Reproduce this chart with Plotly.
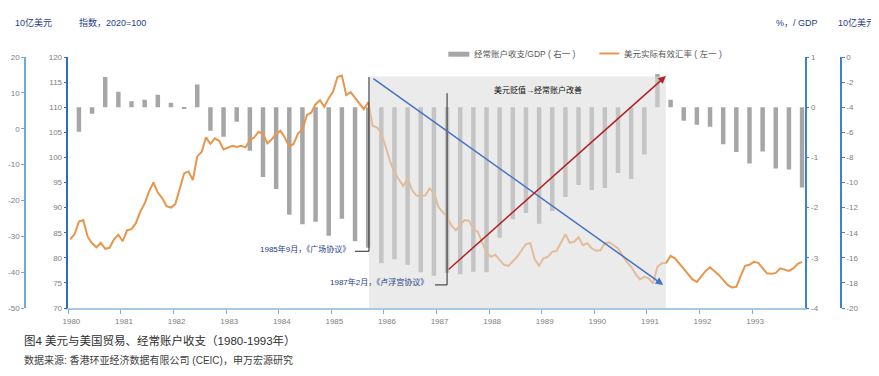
import plotly.graph_objects as go

# ---------------- data ----------------
years = list(range(1980, 1994))
year_labels = [str(y) for y in years]

# US real effective exchange rate, monthly 1980-01 .. 1993-12 (index, 2020=100)
reer = [
    83.7, 84.7, 87.2, 87.5, 84.2, 82.9, 82.1, 83.0, 81.8, 82.0, 83.7, 84.6,   # 1980
    83.3, 85.5, 85.7, 86.9, 89.2, 90.8, 93.2, 95.0, 93.0, 91.9, 90.3, 90.0,   # 1981
    90.7, 94.0, 96.8, 97.2, 95.5, 100.2, 101.1, 104.0, 102.7, 103.8, 103.3, 101.6,  # 1982
    101.9, 102.3, 102.1, 102.3, 102.0, 103.4, 104.0, 105.1, 104.7, 102.8, 103.6, 104.7,  # 1983
    105.3, 103.9, 102.1, 102.7, 104.8, 105.5, 108.4, 108.9, 110.6, 111.4, 110.1, 111.8,  # 1984
    113.1, 116.0, 116.3, 112.4, 113.0, 111.9, 110.8, 109.6, 111.0, 106.3, 106.0, 104.8,  # 1985
    102.1, 99.2, 97.0, 95.6, 94.3, 95.8, 93.5, 92.4, 92.3, 92.4, 93.8, 93.0,  # 1986
    90.2, 89.1, 88.2, 86.4, 85.5, 86.5, 87.5, 87.4, 85.7, 85.2, 83.2, 81.0,   # 1987
    80.2, 80.6, 79.6, 78.6, 78.4, 79.2, 80.2, 81.5, 82.7, 82.9, 79.7, 78.4,   # 1988
    79.9, 80.2, 81.2, 81.4, 83.2, 84.7, 83.0, 83.2, 84.1, 82.5, 82.9, 81.9,   # 1989
    81.4, 81.5, 82.9, 83.1, 82.5, 81.9, 80.5, 79.2, 78.2, 76.8, 75.7, 76.2,   # 1990
    75.9, 74.9, 78.2, 78.9, 79.0, 80.4, 79.9, 78.9, 77.9, 76.8, 75.7, 75.2,   # 1991
    76.2, 77.4, 78.1, 77.4, 76.6, 75.6, 74.6, 74.1, 74.2, 76.4, 78.4, 78.6,   # 1992
    79.2, 79.0, 77.9, 76.9, 76.8, 77.0, 77.9, 77.6, 77.4, 77.9, 78.8, 79.2,   # 1993
]

# Current account / GDP, quarterly 1980Q1 .. 1993Q4 (%)
ca_gdp = [
    -0.49, -0.13, 0.60, 0.31,    # 1980
    0.12, 0.15, 0.25, 0.09,      # 1981
    -0.03, 0.45, -0.47, -0.59,   # 1982
    -0.29, -0.87, -1.39, -1.63,  # 1983
    -2.14, -2.33, -2.28, -2.56,  # 1984
    -2.22, -2.67, -2.80, -3.11,  # 1985
    -3.03, -3.14, -3.29, -3.36,  # 1986
    -3.30, -3.33, -3.28, -3.29,  # 1987
    -2.60, -2.23, -2.11, -2.32,  # 1988
    -2.07, -1.79, -1.55, -1.65,  # 1989
    -1.61, -1.31, -1.43, -0.94,  # 1990
    0.66, 0.15, -0.27, -0.35,    # 1991
    -0.39, -0.74, -0.89, -1.12,  # 1992
    -0.88, -1.22, -1.24, -1.60,  # 1993
]

left_outer_vals = [20, 10, 0, -10, -20, -30, -40, -50]
left_outer_text = ["20", "10", "0", "-10", "-20", "-30", "-40", "-50"]
left_inner_vals = [120, 115, 110, 105, 100, 95, 90, 85, 80, 75, 70]
left_inner_text = [str(v) for v in left_inner_vals]
right_inner_vals = [1, 0, -1, -2, -3, -4]
right_inner_text = ["1", "0", "-1", "-2", "-3", "-4"]
right_outer_vals = [0, -2, -4, -6, -8, -10, -12, -14, -16, -18, -20]
right_outer_text = ["0", "-2", "-4", "-6", "-8", "-10", "-12", "-14", "-16", "-18", "-20"]

# event dates (decimal years)
plaza = 1985.715
louvre = 1987.2
shade_end = 1991.36

# ---------------- layout helpers ----------------
# the page body has an 8px margin, so the figure is drawn 8px smaller and
# all page-pixel positions below are converted accordingly
OFF = 8
W, H = 879 - OFF, 376 - OFF
ML, MR, MT, MB = 2, 10, 49, 68
PW = W - ML - MR
PH = H - MT - MB


def px(x):
    return (x - OFF - ML) / PW


def py(y):
    return (H - MB - (y - OFF)) / PH


FONT = "Liberation Sans, Noto Sans CJK SC, sans-serif"
ORANGE = "#E8964C"
BAR = "#A6A6A6"
NAVY = "#1F3D8A"
TICKC = "#808080"

t_month = [1980 + (k + 0.4) / 12 for k in range(len(reer))]
t_bar = [1980 + (3 * i + 2.4) / 12 for i in range(len(ca_gdp))]

fig = go.Figure()
fig.add_trace(go.Bar(x=t_bar, y=ca_gdp, width=0.085, marker=dict(color=BAR, line=dict(width=0)),
                     name="经常账户收支/GDP（右一）", yaxis="y", showlegend=False, hoverinfo="skip"))
fig.add_trace(go.Scatter(x=t_month, y=reer, mode="lines", line=dict(color=ORANGE, width=2),
                         name="美元实际有效汇率（左一）", yaxis="y2", showlegend=False, hoverinfo="skip"))
fig.add_trace(go.Scatter(x=[None], y=[None], yaxis="y3", showlegend=False, hoverinfo="skip"))
fig.add_trace(go.Scatter(x=[None], y=[None], yaxis="y4", showlegend=False, hoverinfo="skip"))

tickfont = dict(family=FONT, size=8, color=TICKC)

common = dict(showgrid=False, zeroline=False, showline=True, ticks="outside", ticklen=3,
              tickfont=tickfont, fixedrange=True)

fig.update_layout(
    width=W, height=H,
    margin=dict(l=ML, r=MR, t=MT, b=MB, autoexpand=False),
    paper_bgcolor="white", plot_bgcolor="white",
    font=dict(family=FONT),
    barmode="overlay",
    xaxis=dict(domain=[px(68.4), px(804.7)], range=[1980, 1994], tickvals=years, ticktext=year_labels,
               showgrid=False, zeroline=False, showline=True, linecolor="#A9C8E8", linewidth=2,
               ticks="outside", ticklen=4, tickcolor="#7FAEDC", tickfont=tickfont, anchor="y",
               ticklabelshift=3),
    yaxis=dict(side="right", range=[-4, 1], tickvals=right_inner_vals, ticktext=right_inner_text,
               linecolor="#3C82CC", linewidth=1.5, tickcolor="#3C82CC", anchor="x", **common),
    yaxis2=dict(side="left", overlaying="y", range=[70, 120], tickvals=left_inner_vals,
                ticktext=left_inner_text, linecolor="#2F6EBA", linewidth=1.5, tickcolor="#2F6EBA",
                anchor="x", **common),
    yaxis3=dict(side="left", overlaying="y", anchor="free", position=px(25), range=[-50, 20],
                tickvals=left_outer_vals, ticktext=left_outer_text, linecolor="#6FA8DC", linewidth=1.5,
                tickcolor="#6FA8DC", **common),
    yaxis4=dict(side="right", overlaying="y", anchor="free", position=px(841), range=[-20, 0],
                tickvals=right_outer_vals, ticktext=right_outer_text, linecolor="#3C82CC", linewidth=1.5,
                tickcolor="#3C82CC", **common),
)

shapes = [
    # shaded period
    dict(type="rect", xref="x", yref="y2", x0=plaza, x1=shade_end, y0=70, y1=116.1,
         fillcolor="rgba(219,219,219,0.56)", line=dict(width=0), layer="above"),
    # Plaza accord marker
    dict(type="line", xref="x", yref="y2", x0=plaza, x1=plaza, y0=116.0, y1=81.3,
         line=dict(color="#262626", width=1), layer="above"),
    dict(type="line", xref="x", yref="y2", x0=1985.45, x1=plaza, y0=81.3, y1=81.3,
         line=dict(color="#262626", width=1), layer="above"),
    # Louvre accord marker
    dict(type="line", xref="x", yref="y2", x0=louvre, x1=louvre, y0=112.8, y1=74.6,
         line=dict(color="#262626", width=1), layer="above"),
    dict(type="line", xref="x", yref="y2", x0=1986.97, x1=louvre, y0=74.6, y1=74.6,
         line=dict(color="#262626", width=1), layer="above"),
    # custom legend
    dict(type="rect", xref="paper", yref="paper", x0=px(448.3), x1=px(469.3), y0=py(56.7), y1=py(51.7),
         fillcolor=BAR, line=dict(width=0)),
    dict(type="line", xref="paper", yref="paper", x0=px(599.3), x1=px(619.3), y0=py(53.5), y1=py(53.5),
         line=dict(color=ORANGE, width=2)),
]
fig.update_layout(shapes=shapes)

ann = []


def txt(x, y, s, size, color, xanchor="left", xref="paper", yref="paper"):
    ann.append(dict(x=x, y=y, xref=xref, yref=yref, text=s, showarrow=False, xanchor=xanchor,
                    yanchor="middle", font=dict(family=FONT, size=size, color=color)))


# axis titles
txt(px(13), py(23), "10亿美元", 9, NAVY)
txt(px(77), py(23), "指数，2020=100", 9, NAVY)
txt(px(774), py(23), "%，/ GDP", 9, NAVY)
txt(px(836), py(23), "10亿美元", 9, NAVY)
# legend text
txt(px(472), py(54.3), "经常账户收支/GDP ( 右一 )", 8.5, "#595959")
txt(px(622), py(53.8), "美元实际有效汇率 ( 左一 )", 8.5, "#595959")
# event labels
txt(1985.40, 81.7, "1985年9月，《广场协议》", 8, NAVY, xanchor="right", xref="x", yref="y2")
txt(1986.875, 75.1, "1987年2月，《卢浮宫协议》", 8, NAVY, xanchor="right", xref="x", yref="y2")
txt(1988.92, 113.4, "美元贬值→经常账户改善", 8, "#111111", xanchor="center", xref="x", yref="y2")
# footer
txt(px(22), py(340), "图4 美元与美国贸易、经常账户收支（1980-1993年）", 11.5, "#2e2e2e")
txt(px(22), py(360), "数据来源: 香港环亚经济数据有限公司 (CEIC)，申万宏源研究", 10, "#404040")

# trend arrows
ann.append(dict(x=1991.31, y=74.6, ax=1985.77, ay=115.9, xref="x", yref="y2", axref="x", ayref="y2",
                text="", showarrow=True, arrowhead=2, arrowsize=1, arrowwidth=1.5,
                arrowcolor="#4472C4", standoff=0, startstandoff=0))
ann.append(dict(x=1991.36, y=116.2, ax=1987.20, ay=77.4, xref="x", yref="y2", axref="x", ayref="y2",
                text="", showarrow=True, arrowhead=2, arrowsize=1, arrowwidth=1.5,
                arrowcolor="#B22222", standoff=0, startstandoff=0))

fig.update_layout(annotations=ann)

fig.write_html("out.html")
